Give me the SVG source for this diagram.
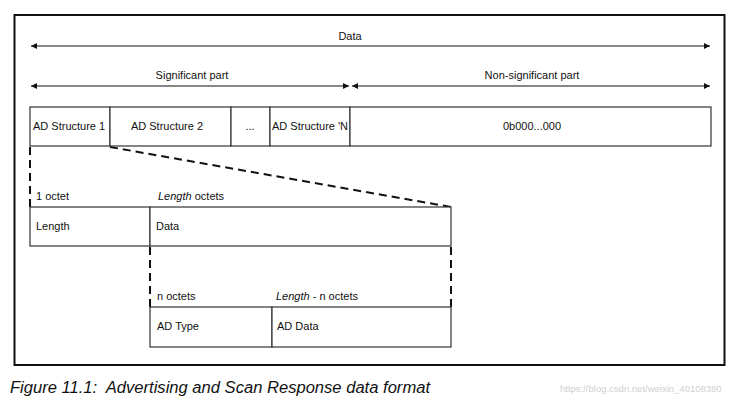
<svg xmlns="http://www.w3.org/2000/svg" width="740" height="402" viewBox="0 0 740 402">
<style>
text{font-family:"Liberation Sans",Arial,sans-serif;font-size:11px;fill:#111}
.box{fill:#fff;stroke:#333;stroke-width:1.2}
.arr{stroke:#111;stroke-width:1.2;fill:none}
.dash{stroke:#111;stroke-width:2;stroke-dasharray:8,5;fill:none}
.c{text-anchor:middle}
</style>
<defs>
<marker id="ah" viewBox="0 0 10 10" refX="10" refY="5" markerWidth="10" markerHeight="6" markerUnits="userSpaceOnUse" orient="auto-start-reverse">
<path d="M0,0 L10,5 L0,10 z" fill="#111"/>
</marker>
</defs>
<rect width="740" height="402" fill="#fff"/>
<rect id="frame" x="14.5" y="15" width="710" height="350" fill="#fff" stroke="#111" stroke-width="2"/>
<g id="connectors">
<line class="arr" x1="31" y1="46" x2="710" y2="46" marker-start="url(#ah)" marker-end="url(#ah)"/>
<line class="arr" x1="31" y1="86" x2="349" y2="86" marker-start="url(#ah)" marker-end="url(#ah)"/>
<line class="arr" x1="352" y1="86" x2="710" y2="86" marker-start="url(#ah)" marker-end="url(#ah)"/>
<line class="dash" x1="30" y1="147" x2="30" y2="207"/>
<line class="dash" x1="110" y1="147" x2="451" y2="207"/>
<line class="dash" x1="150" y1="247" x2="150" y2="307"/>
<line class="dash" x1="451" y1="247" x2="451" y2="307"/>
</g>
<g id="labels">
<text class="c" x="350" y="40">Data</text>
<text class="c" x="192" y="79">Significant part</text>
<text class="c" x="532" y="79">Non-significant part</text>
</g>
<g id="ad1"><rect class="box" x="30" y="107" width="80" height="39"/><text x="33" y="130">AD Structure 1</text></g>
<g id="ad2"><rect class="box" x="110" y="107" width="121" height="39"/><text class="c" x="167" y="130">AD Structure 2</text></g>
<g id="dots"><rect class="box" x="231" y="107" width="39" height="39"/><text class="c" x="250" y="130">...</text></g>
<g id="adN"><rect class="box" x="270" y="107" width="80" height="39"/><text x="272" y="130">AD Structure 'N</text></g>
<g id="nonsig"><rect class="box" x="350" y="107" width="361" height="39"/><text class="c" x="532" y="130">0b000...000</text></g>
<g id="octet1"><text x="36" y="200">1 octet</text></g>
<g id="lenoctets"><text x="158" y="200"><tspan font-style="italic">Length</tspan> octets</text></g>
<g id="length"><rect class="box" x="30" y="207" width="120" height="39"/><text x="36" y="230">Length</text></g>
<g id="data"><rect class="box" x="150" y="207" width="301" height="39"/><text x="156" y="230">Data</text></g>
<g id="noctets"><text x="157" y="300">n octets</text></g>
<g id="lennoctets"><text x="276" y="300"><tspan font-style="italic">Length</tspan> - n octets</text></g>
<g id="adtype"><rect class="box" x="150" y="307" width="122" height="40"/><text x="157" y="330">AD Type</text></g>
<g id="addata"><rect class="box" x="272" y="307" width="179" height="40"/><text x="277" y="330">AD Data</text></g>
<text x="10" y="393" xml:space="preserve" textLength="420" lengthAdjust="spacingAndGlyphs" style="font-size:16px;font-style:italic">Figure 11.1:  Advertising and Scan Response data format</text>
<text x="560" y="392" style="font-size:9.5px;fill:#cfcfcf">https://blog.csdn.net/weixin_40108380</text>
</svg>
